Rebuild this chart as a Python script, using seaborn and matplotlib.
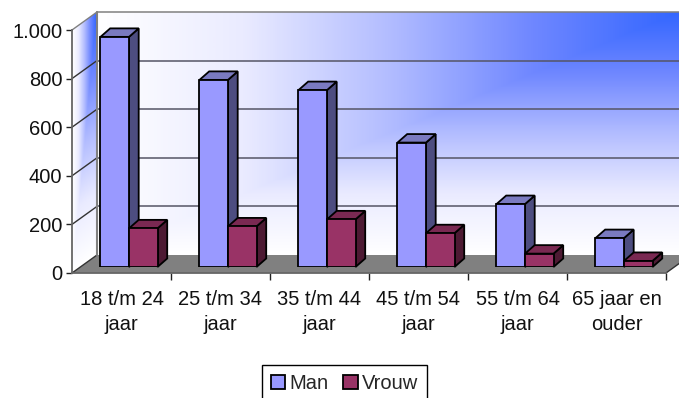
import numpy as np
import pandas as pd
import matplotlib.pyplot as plt
import seaborn as sns
from matplotlib.colors import LinearSegmentedColormap
from matplotlib.patches import Patch, Polygon

categories = ['18 t/m 24\njaar', '25 t/m 34\njaar', '35 t/m 44\njaar',
              '45 t/m 54\njaar', '55 t/m 64\njaar', '65 jaar en\nouder']
man = [947, 770, 728, 512, 259, 119]
vrouw = [159, 167, 196, 139, 55, 25]
y_ticks = [0, 200, 400, 600, 800, 1000]
y_labels = ['0', '200', '400', '600', '800', '1.000']

sns.set_theme(style='white')
plt.rcParams['font.family'] = ['Liberation Sans', 'DejaVu Sans']

W, H = 679, 398
fig = plt.figure(figsize=(W / 100, H / 100), dpi=100)


# axes from pixel box, y counted from the top of the image
def px_axes(x0, y_top, x1, y_bot):
    return fig.add_axes([x0 / W, 1 - y_bot / H, (x1 - x0) / W, (y_bot - y_top) / H])


# back wall, floor and side wall, drawn in image pixels
bg = fig.add_axes([0, 0, 1, 1])
bg.set_xlim(0, W)
bg.set_ylim(H, 0)
bg.axis('off')

ramp = LinearSegmentedColormap.from_list('wall', [
    (0, '#3366ff'), (0.25, '#6f87ff'), (0.5, '#b3bdff'), (0.75, '#eaebff'), (1, '#ffffff')])

wall_l, wall_t, wall_b = 97, 12, 255
xx, yy = np.meshgrid(np.arange(wall_l, W + 1), np.arange(wall_t, wall_b + 1))
t = np.maximum((W - xx) / (W - wall_l), (yy - wall_t) / (wall_b - wall_t))
bg.imshow(t, cmap=ramp, vmin=0, vmax=1, extent=(wall_l, W, wall_b, wall_t), aspect='auto', zorder=0)

# side wall gradient, sheared along the depth
front_l, depth_x, depth_y = 72, 25, 18
xx, yy = np.meshgrid(np.arange(front_l, wall_l + 1), np.arange(wall_t, wall_b + depth_y + 1))
u = (wall_l - xx) / depth_x
v = (yy - wall_t - u * depth_y) / (wall_b - wall_t)
side = bg.imshow(np.maximum(u, v), cmap=ramp, vmin=0, vmax=1,
                 extent=(front_l, wall_l, wall_b + depth_y, wall_t), aspect='auto', zorder=0)
side_poly = Polygon([(front_l, wall_t + depth_y), (wall_l, wall_t), (wall_l, wall_b),
                     (front_l, wall_b + depth_y)], transform=bg.transData, fc='none', ec='none')
bg.add_patch(side_poly)
side.set_clip_path(side_poly)
bg.set_xlim(0, W)
bg.set_ylim(H, 0)

front_r = 666
bg.add_patch(Polygon([(front_l, wall_b + depth_y), (wall_l, wall_b), (front_r + depth_x, wall_b),
                      (front_r, wall_b + depth_y)], fc='#808080', ec='none', zorder=1))

px_per_unit = (wall_b - wall_t) / 1000
for val in y_ticks:
    y = wall_b - val * px_per_unit
    grey = '#808080' if val in (0, 1000) else '#555566'
    if val > 0:
        bg.plot([wall_l, W], [y, y], color=grey, lw=1.1, zorder=2)
    bg.plot([front_l, wall_l], [y + depth_y, y], color='#808080' if val == 1000 else '#333333',
            lw=1.0, zorder=2)
bg.plot([wall_l, wall_l], [wall_t, wall_b], color='#808080', lw=1.5, zorder=2)
bg.plot([front_r, front_r + depth_x], [wall_b + depth_y, wall_b], color='#333333', lw=1.0, zorder=2)

# front plane only carries the ticks and labels
front = px_axes(front_l, wall_t + depth_y, front_r, wall_b + depth_y)
front.patch.set_alpha(0)
front.set_xlim(-0.5, 5.5)
front.set_ylim(0, 1000)
for name in ('top', 'right'):
    front.spines[name].set_visible(False)
for name in ('left', 'bottom'):
    front.spines[name].set_color('#666666')
    front.spines[name].set_linewidth(1.3)
front.set_yticks(y_ticks, y_labels, fontsize=14.5, color='#111111')
front.set_xticks(np.arange(0.5, 6, 1))
front.set_xticklabels([])
front.set_xticks(range(6), categories, minor=True, fontsize=14.5, color='#111111', linespacing=1.45)
front.tick_params(axis='y', left=True, length=4, width=1, color='#222222', pad=3)
front.tick_params(axis='x', which='major', bottom=True, length=5, width=1, color='#222222')
front.tick_params(axis='x', which='minor', bottom=False, length=0, pad=12)

# bars stand a little behind the front plane
bars = px_axes(front_l + 7.5, wall_t + 12, front_r + 7.5, wall_b + 12)
df = pd.DataFrame({
    'groep': categories * 2,
    'waarde': man + vrouw,
    'geslacht': ['Man'] * 6 + ['Vrouw'] * 6,
})
colors = {'Man': '#9999ff', 'Vrouw': '#993366'}
sns.barplot(data=df, x='groep', y='waarde', hue='geslacht', palette=colors, width=0.576, gap=0,
            saturation=1, edgecolor='black', linewidth=1.3, legend=False, ax=bars)
bars.set_xlim(-0.5, 5.5)
bars.set_ylim(0, 1000)
bars.axis('off')

# box sides and tops, built from the bars seaborn drew
box_dx = 9.7 / 99
box_dy = 8.5 / px_per_unit
faces = [('#4d4d80', '#7a7ac0'), ('#4d1a33', '#7a2952')]
for i, cont in enumerate(bars.containers):
    side_c, top_c = faces[i]
    z = 3 + 2 * i
    for p in cont.patches:
        x0, x1, h = p.get_x(), p.get_x() + p.get_width(), p.get_height()
        bars.add_patch(Polygon([(x1, 0), (x1 + box_dx, box_dy), (x1 + box_dx, h + box_dy), (x1, h)],
                               fc=side_c, ec='black', lw=1.3, zorder=z, clip_on=False))
        bars.add_patch(Polygon([(x0, h), (x0 + box_dx, h + box_dy), (x1 + box_dx, h + box_dy), (x1, h)],
                               fc=top_c, ec='black', lw=1.3, zorder=z, clip_on=False))
        p.set_zorder(z + 1)

handles = [Patch(fc=colors[k], ec='black', lw=1.3, label=k) for k in colors]
fig.legend(handles=handles, loc='upper left', bbox_to_anchor=(262 / W, 1 - 365 / H), ncol=2,
           fontsize=14.5, frameon=True, fancybox=False, framealpha=1, edgecolor='black',
           borderaxespad=0, handlelength=0.7, handleheight=0.7, handletextpad=0.2,
           columnspacing=0.75, borderpad=0.45)

fig.savefig('out.png', dpi=100)
